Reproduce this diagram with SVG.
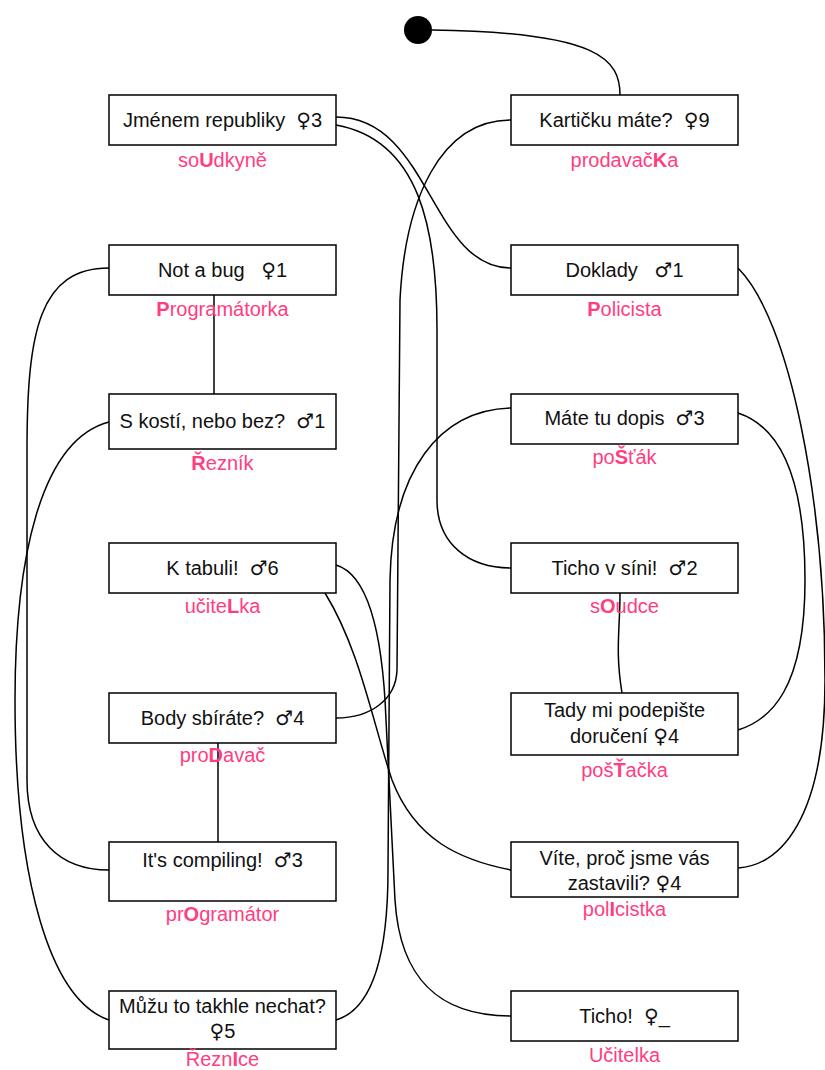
<svg xmlns="http://www.w3.org/2000/svg" width="825" height="1070" viewBox="0 0 825 1070">
<style>
.box{fill:#fff;stroke:#000;stroke-width:1.5}
.t{font-family:"Liberation Sans",Arial,sans-serif;font-size:20px;fill:#111;text-anchor:middle}
.l{font-family:"Liberation Sans",Arial,sans-serif;font-size:20px;fill:#ff3d7f;text-anchor:middle}
.b{font-weight:bold}
.s{font-family:"DejaVu Sans",sans-serif}
.e{fill:none;stroke:#000;stroke-width:1.5}
</style>
<rect width="825" height="1070" fill="#fff"/>
<g id="edges">
<path class="e" d="M432,30 C600,32 620,60 620,95"/>
<path class="e" d="M511,120 C440,120 405,200 400,300 L397,670 C396,700 370,718 336,718"/>
<path class="e" d="M336,117 C430,117 430,268 511,268"/>
<path class="e" d="M336,125 C420,140 437,230 437,330 L437,500 C437,545 470,568 511,568"/>
<path class="e" d="M109,268 C40,268 27,330 27,450 L27,780 C27,840 60,870 109,870"/>
<path class="e" d="M214,295 L214,394"/>
<path class="e" d="M109,422 C40,440 15,560 15,700 C15,880 50,1000 109,1020"/>
<path class="e" d="M738,268 C790,320 825,500 825,680 C825,820 780,865 738,868"/>
<path class="e" d="M511,408 C440,410 392,470 390,580 L388,870 C388,960 370,1010 336,1020"/>
<path class="e" d="M336,565 C370,575 383,640 386,720 L395,900 C400,980 440,1016 511,1016"/>
<path class="e" d="M325,593 C360,650 372,720 392,780 C415,840 460,860 511,870"/>
<path class="e" d="M738,413 C790,430 805,500 805,580 C805,690 770,720 738,730"/>
<path class="e" d="M620,593 C620,630 615,650 622,693"/>
<path class="e" d="M218,742 L218,842"/>
</g>
<g id="start"><circle cx="418" cy="30" r="14" fill="#000"/></g>
<g id="n1"><rect class="box" x="109" y="95" width="227" height="50"/><text class="t" x="222.5" y="127" xml:space="preserve">Jménem republiky  <tspan class="s">♀</tspan>3</text><text class="l" x="222.5" y="167">so<tspan class="b">U</tspan>dkyně</text></g>
<g id="n2"><rect class="box" x="511" y="95" width="227" height="50"/><text class="t" x="624.5" y="127" xml:space="preserve">Kartičku máte?  <tspan class="s">♀</tspan>9</text><text class="l" x="624.5" y="167">prodavač<tspan class="b">K</tspan>a</text></g>
<g id="n3"><rect class="box" x="109" y="245" width="227" height="50"/><text class="t" x="222.5" y="277" xml:space="preserve">Not a bug   <tspan class="s">♀</tspan>1</text><text class="l" x="222.5" y="316"><tspan class="b">P</tspan>rogramátorka</text></g>
<g id="n4"><rect class="box" x="511" y="245" width="227" height="50"/><text class="t" x="624.5" y="277" xml:space="preserve">Doklady   <tspan class="s">♂</tspan>1</text><text class="l" x="624.5" y="316"><tspan class="b">P</tspan>olicista</text></g>
<g id="n5"><rect class="box" x="109" y="394" width="227" height="55"/><text class="t" x="222.5" y="428" xml:space="preserve">S kostí, nebo bez?  <tspan class="s">♂</tspan>1</text><text class="l" x="222.5" y="470"><tspan class="b">Ř</tspan>ezník</text></g>
<g id="n6"><rect class="box" x="511" y="394" width="227" height="50"/><text class="t" x="624.5" y="425" xml:space="preserve">Máte tu dopis  <tspan class="s">♂</tspan>3</text><text class="l" x="624.5" y="464">po<tspan class="b">Š</tspan>ťák</text></g>
<g id="n7"><rect class="box" x="109" y="543" width="227" height="50"/><text class="t" x="222.5" y="575" xml:space="preserve">K tabuli!  <tspan class="s">♂</tspan>6</text><text class="l" x="222.5" y="613">učite<tspan class="b">L</tspan>ka</text></g>
<g id="n8"><rect class="box" x="511" y="543" width="227" height="50"/><text class="t" x="624.5" y="575" xml:space="preserve">Ticho v síni!  <tspan class="s">♂</tspan>2</text><text class="l" x="624.5" y="613">s<tspan class="b">O</tspan>udce</text></g>
<g id="n9"><rect class="box" x="109" y="693" width="227" height="50"/><text class="t" x="222.5" y="725" xml:space="preserve">Body sbíráte?  <tspan class="s">♂</tspan>4</text><text class="l" x="222.5" y="762">pro<tspan class="b">D</tspan>avač</text></g>
<g id="n10"><rect class="box" x="511" y="693" width="227" height="62"/><text class="t" x="624.5" y="717">Tady mi podepište</text><text class="t" x="624.5" y="743">doručení <tspan class="s">♀</tspan>4</text><text class="l" x="624.5" y="777">poš<tspan class="b">Ť</tspan>ačka</text></g>
<g id="n11"><rect class="box" x="109" y="842" width="227" height="59"/><text class="t" x="222.5" y="867" xml:space="preserve">It's compiling!  <tspan class="s">♂</tspan>3</text><text class="l" x="222.5" y="921">pr<tspan class="b">O</tspan>gramátor</text></g>
<g id="n12"><rect class="box" x="511" y="842" width="227" height="55"/><text class="t" x="624.5" y="865">Víte, proč jsme vás</text><text class="t" x="624.5" y="890">zastavili? <tspan class="s">♀</tspan>4</text><text class="l" x="624.5" y="916">pol<tspan class="b">I</tspan>cistka</text></g>
<g id="n13"><rect class="box" x="109" y="991" width="227" height="58"/><text class="t" x="222.5" y="1013">Můžu to takhle nechat?</text><text class="t" x="222.5" y="1038"><tspan class="s">♀</tspan>5</text><text class="l" x="222.5" y="1066">Řezn<tspan class="b">I</tspan>ce</text></g>
<g id="n14"><rect class="box" x="511" y="991" width="227" height="50"/><text class="t" x="624.5" y="1023" xml:space="preserve">Ticho!  <tspan class="s">♀</tspan>_</text><text class="l" x="624.5" y="1062">Učitelka</text></g>
</svg>
